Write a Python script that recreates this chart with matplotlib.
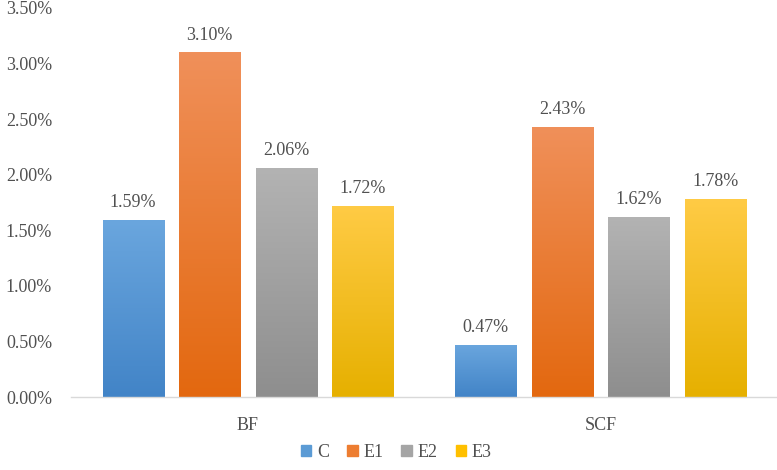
import matplotlib.pyplot as plt
import matplotlib.colors as mcolors
import numpy as np

plt.rcParams['font.family'] = ['Liberation Serif', 'DejaVu Serif']

categories = ['BF', 'SCF']
series = ['C', 'E1', 'E2', 'E3']
values = {
    'C': [1.59, 0.47],
    'E1': [3.10, 2.43],
    'E2': [2.06, 1.62],
    'E3': [1.72, 1.78],
}
# top (light) and bottom (dark) of each bar's gradient
colors = {
    'C': ('#6AA6DE', '#4284C7'),
    'E1': ('#F0905A', '#E3680F'),
    'E2': ('#B3B3B3', '#8E8E8E'),
    'E3': ('#FFCB45', '#E6B000'),
}
legend_colors = {'C': '#5B9BD5', 'E1': '#ED7D31', 'E2': '#A5A5A5', 'E3': '#FFC000'}

fig = plt.figure(figsize=(7.77, 4.70), dpi=100)
ax = fig.add_axes([0.092, 0.155, 0.908, 0.828])

txt = '#505050'
fs = 13
x = np.arange(len(categories))
width = 0.173
step = 0.217
grad = np.linspace(1, 0, 256).reshape(-1, 1)

handles = []
for i, s in enumerate(series):
    pos = x + (i - 1.5) * step
    bars = ax.bar(pos, values[s], width, color='none', edgecolor='none', zorder=2)
    cmap = mcolors.LinearSegmentedColormap.from_list(s, [colors[s][1], colors[s][0]])
    for b, v in zip(bars, values[s]):
        im = ax.imshow(grad, cmap=cmap, aspect='auto', origin='upper',
                       extent=[b.get_x(), b.get_x() + b.get_width(), 0, v], zorder=2)
        im.set_clip_path(b)
        ax.text(b.get_x() + b.get_width() / 2, v + 0.08, f'{v:.2f}%',
                ha='center', va='bottom', fontsize=fs, color=txt)
    handles.append(plt.Rectangle((0, 0), 1, 1, color=legend_colors[s]))

ax.set_xlim(-0.5, 1.5)
ax.set_ylim(0, 3.5)
ax.set_yticks(np.arange(0, 3.51, 0.5))
ax.set_yticklabels([f'{t:.2f}%' for t in np.arange(0, 3.51, 0.5)])
ax.set_xticks(x)
ax.set_xticklabels(categories)
ax.tick_params(axis='both', length=0, labelsize=fs, colors=txt)
ax.tick_params(axis='x', pad=14)
ax.tick_params(axis='y', pad=14)
for sp in ['top', 'right', 'left']:
    ax.spines[sp].set_visible(False)
ax.spines['bottom'].set_color('#D9D9D9')
ax.spines['bottom'].set_linewidth(1.0)

fig.legend(handles, series, loc='lower center', bbox_to_anchor=(0.51, -0.015), ncol=4,
           frameon=False, fontsize=fs, handlelength=0.6, handleheight=0.6,
           handletextpad=0.3, columnspacing=1.0, labelcolor=txt)

fig.savefig('out.png', dpi=100)
